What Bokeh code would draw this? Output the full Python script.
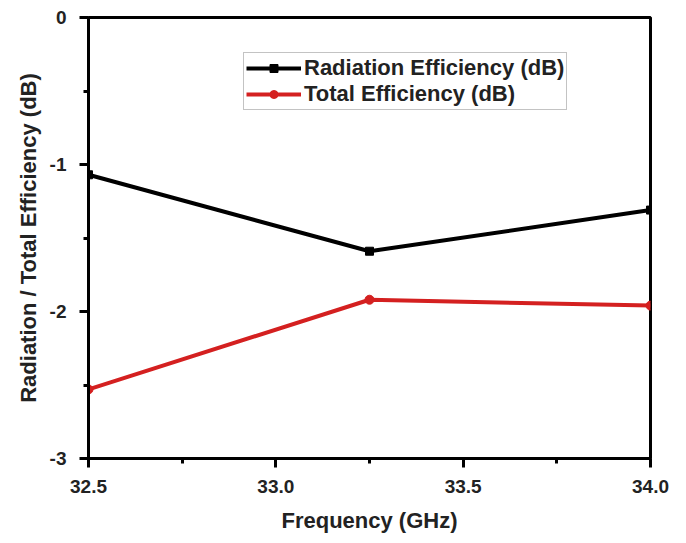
from bokeh.plotting import figure
from bokeh.models import Range1d, FixedTicker, Legend, LegendItem
from bokeh.embed import file_html
from bokeh.resources import INLINE

freq = [32.5, 33.25, 34.0]
radiation_eff = [-1.07, -1.59, -1.31]
total_eff = [-2.53, -1.92, -1.96]
x_ticks = [32.5, 33.0, 33.5, 34.0]
y_ticks = [-3, -2, -1, 0]

FONT = "Liberation Sans"

p = figure(width=670, height=535, output_backend="svg", toolbar_location=None,
           x_range=Range1d(32.5, 34.0), y_range=Range1d(-3, 0),
           min_border_left=88, min_border_right=20, min_border_top=17, min_border_bottom=76)
p.grid.visible = False
p.outline_line_color = "black"
p.outline_line_width = 3
p.background_fill_color = "white"
p.border_fill_color = "white"

p.xaxis.ticker = FixedTicker(ticks=x_ticks, minor_ticks=[32.75, 33.25, 33.75])
p.yaxis.ticker = FixedTicker(ticks=y_ticks, minor_ticks=[-2.5, -1.5, -0.5])
p.xaxis.major_label_overrides = {32.5: "32.5", 33.0: "33.0", 33.5: "33.5", 34.0: "34.0"}
p.yaxis.major_label_overrides = {-3: "-3", -2: "-2", -1: "-1", 0: "0"}

for ax in (p.xaxis[0], p.yaxis[0]):
    ax.axis_line_width = 3
    ax.major_tick_line_width = 3
    ax.minor_tick_line_width = 3
    ax.major_tick_out = 9
    ax.major_tick_in = 0
    ax.minor_tick_out = 5
    ax.minor_tick_in = 0
    ax.major_label_text_font = FONT
    ax.major_label_text_font_style = "bold"
    ax.major_label_text_font_size = "19px"
    ax.major_label_text_color = "#222222"
    ax.axis_label_text_font = FONT
    ax.axis_label_text_font_style = "bold"
    ax.axis_label_text_font_size = "22px"
    ax.axis_label_text_color = "#222222"

p.xaxis.axis_label = "Frequency (GHz)"
p.yaxis.axis_label = "Radiation / Total Efficiency (dB)"
p.xaxis.major_label_standoff = 12
p.yaxis.major_label_standoff = 13
p.xaxis.axis_label_standoff = 12
p.yaxis.axis_label_standoff = 6

l1 = p.line(freq, radiation_eff, line_color="black", line_width=4)
m1 = p.scatter(freq, radiation_eff, marker="square", size=8, color="black")
l2 = p.line(freq, total_eff, line_color="#d42020", line_width=4)
m2 = p.scatter(freq, total_eff, marker="circle", size=9, color="#d42020")

legend = Legend(items=[
    LegendItem(label="Radiation Efficiency (dB)", renderers=[l1, m1]),
    LegendItem(label="Total Efficiency (dB)", renderers=[l2, m2]),
], location=(155, 348))
legend.label_text_font = FONT
legend.label_text_font_style = "bold"
legend.label_text_font_size = "22px"
legend.label_text_color = "#222222"
legend.border_line_color = "#888888"
legend.border_line_width = 1
legend.glyph_width = 55
legend.glyph_height = 20
legend.label_height = 20
legend.spacing = 0
legend.padding = 2
legend.margin = 0
legend.label_standoff = 3
p.add_layout(legend, "center")

open("out.html", "w").write(file_html(p, INLINE))
